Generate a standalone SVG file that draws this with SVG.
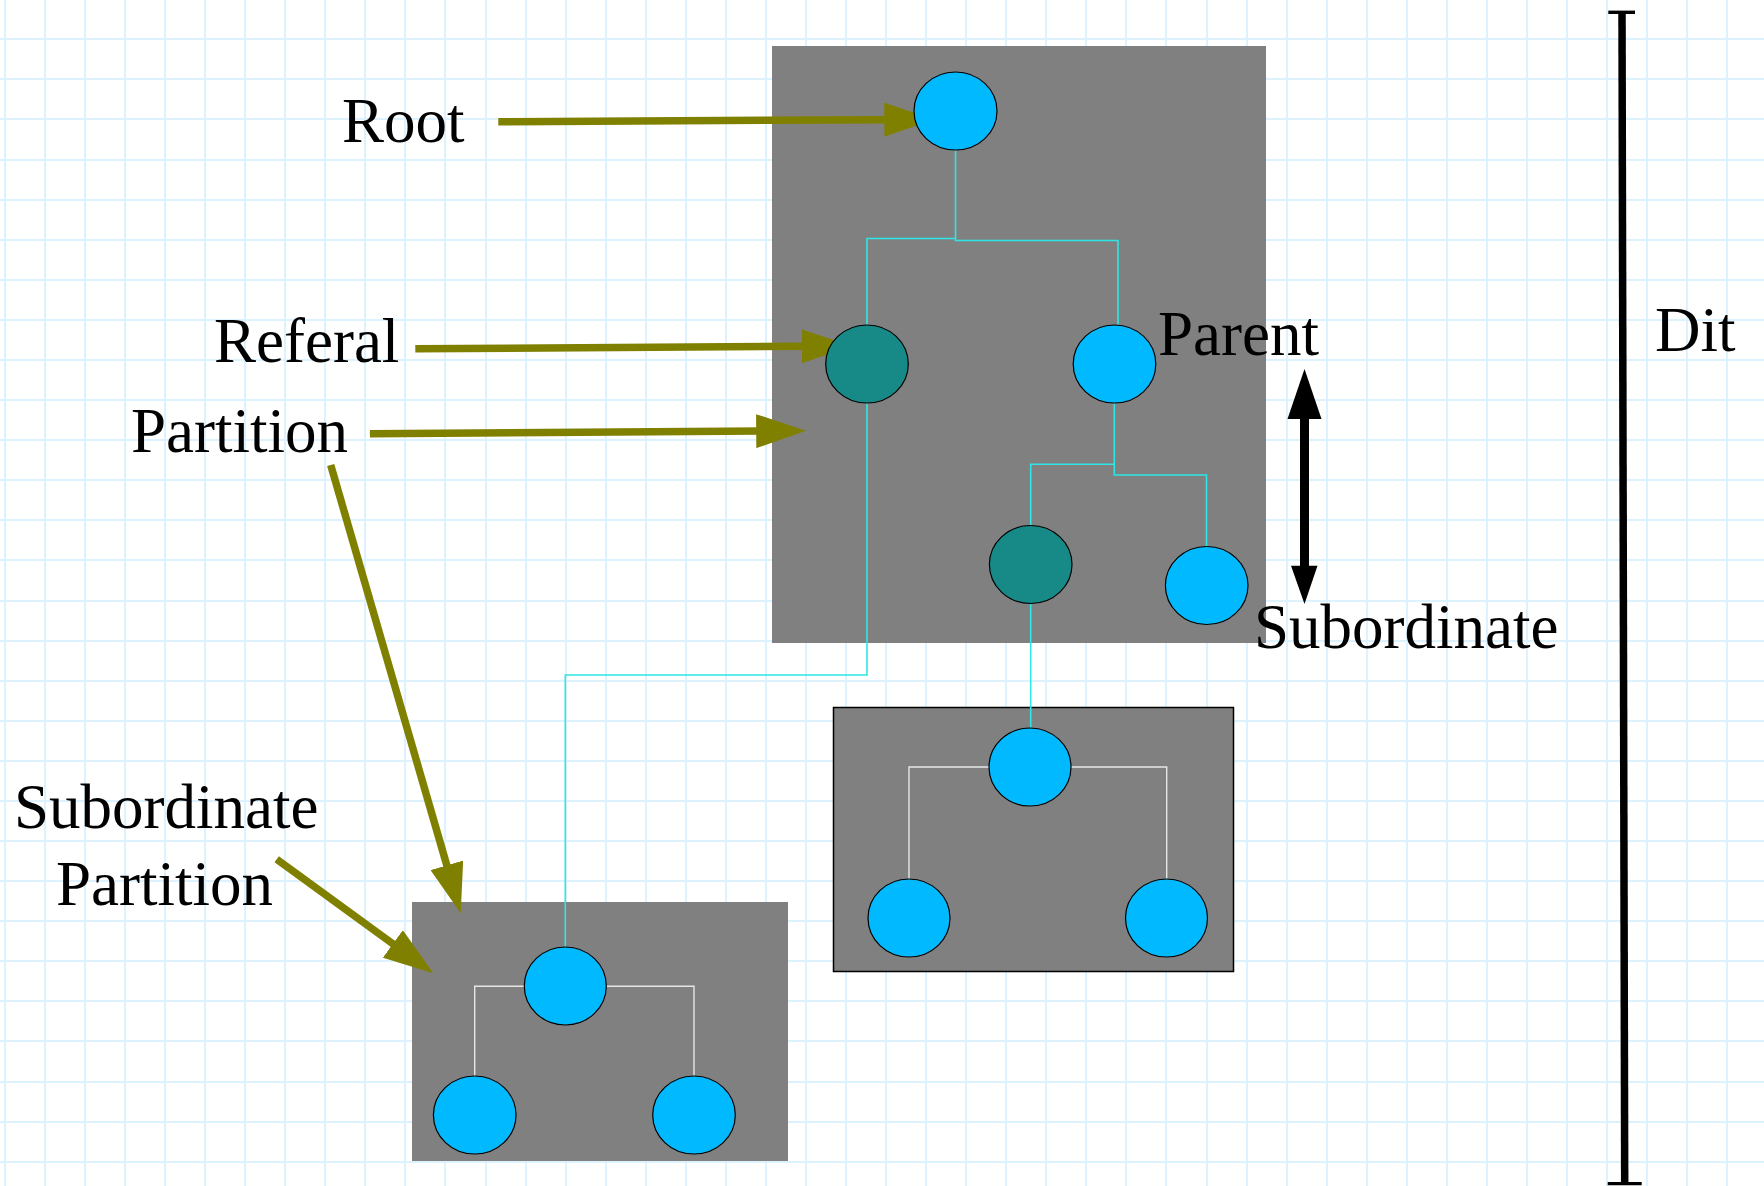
<svg xmlns="http://www.w3.org/2000/svg" width="1764" height="1186" viewBox="0 0 1764 1186">
<style>
.grid{stroke:#dcf3ff;stroke-width:2;fill:none}
.box{fill:#808080}
.n{fill:#00b9ff;stroke:#000;stroke-width:1.2}
.t{fill:#178a88;stroke:#000;stroke-width:1.2}
.cy{stroke:#2ee6e6;stroke-width:1.6;fill:none}
.wl{stroke:#e6e6e6;stroke-width:1.4;fill:none}
.ol{stroke:#808000;stroke-width:7.5;fill:none}
.lbl{font-family:"Liberation Serif","Times New Roman",serif;font-size:63px;fill:#000}
</style>
<defs>
<marker id="oh" viewBox="0 0 50 34" markerWidth="50" markerHeight="34" refX="5" refY="17" orient="auto" markerUnits="userSpaceOnUse">
<path d="M0,0 L50,17 L0,34 Z" fill="#808000"/>
</marker>
</defs>
<rect width="1764" height="1186" fill="#fff"/>
<path class="grid" d="M5 0V1186M45 0V1186M85 0V1186M125 0V1186M165 0V1186M205 0V1186M245 0V1186M285 0V1186M325 0V1186M365 0V1186M405 0V1186M445 0V1186M486 0V1186M526 0V1186M566 0V1186M606 0V1186M646 0V1186M686 0V1186M726 0V1186M766 0V1186M806 0V1186M846 0V1186M886 0V1186M926 0V1186M966 0V1186M1006 0V1186M1046 0V1186M1086 0V1186M1126 0V1186M1166 0V1186M1207 0V1186M1247 0V1186M1287 0V1186M1327 0V1186M1367 0V1186M1407 0V1186M1447 0V1186M1487 0V1186M1527 0V1186M1567 0V1186M1607 0V1186M1647 0V1186M1687 0V1186M1727 0V1186"/>
<path class="grid" d="M0 -1H1764M0 39H1764M0 79H1764M0 119H1764M0 160H1764M0 200H1764M0 240H1764M0 280H1764M0 320H1764M0 360H1764M0 400H1764M0 440H1764M0 480H1764M0 520H1764M0 560H1764M0 601H1764M0 641H1764M0 681H1764M0 721H1764M0 761H1764M0 801H1764M0 841H1764M0 881H1764M0 921H1764M0 961H1764M0 1001H1764M0 1041H1764M0 1082H1764M0 1122H1764M0 1162H1764"/>

<g id="partition-main"><rect class="box" x="772" y="46" width="494" height="597"/></g>
<g id="partition-sub-right"><rect class="box" x="833.5" y="707.5" width="400" height="264" stroke="#000" stroke-width="1.5"/></g>
<g id="partition-sub-left"><rect class="box" x="412" y="902" width="376" height="259"/></g>

<g id="connectors">
<path class="cy" d="M955.5 150V238.5H867V325.7M955.5 238.5V240.5H1118V324.5"/>
<path class="cy" d="M1114.3 403V464.3H1030.7V525.7M1114.3 464.3V475H1206.5V546.7"/>
<path class="cy" d="M867 402V675H565.3V947.3"/>
<path class="cy" d="M1030.7 603.3V728.3"/>
<path class="wl" d="M989 767H909V879.3M1071 767H1166.7V879.3"/>
<path class="wl" d="M524.3 986.3H474.7V1075.7M606.3 986.3H694V1075.7"/>
<line class="ol" x1="498.3" y1="121.7" x2="889.3" y2="119.7" marker-end="url(#oh)"/>
<line class="ol" x1="415.3" y1="348.8" x2="806.7" y2="346.3" marker-end="url(#oh)"/>
<line class="ol" x1="369.9" y1="433.7" x2="761.2" y2="431.1" marker-end="url(#oh)"/>
<line class="ol" x1="330.7" y1="465" x2="448.2" y2="870.1" marker-end="url(#oh)"/>
<line class="ol" x1="276.7" y1="859.3" x2="396.9" y2="946.8" marker-end="url(#oh)"/>
<g id="parent-subordinate-arrow">
<line x1="1304.5" y1="412" x2="1304.5" y2="572" stroke="#000" stroke-width="9"/>
<polygon points="1304.5,369 1321.5,419 1287.5,419" fill="#000"/>
<polygon points="1304.5,604 1317.5,565.7 1291,565.7" fill="#000"/>
</g>
<g id="dit-bar" stroke="#000">
<line x1="1622" y1="12" x2="1624.7" y2="1184" stroke-width="7.5"/>
<line x1="1608.3" y1="12.3" x2="1635" y2="12.3" stroke-width="3.4"/>
<line x1="1607.7" y1="1183.6" x2="1641.7" y2="1183.6" stroke-width="3.4"/>
</g>
</g>

<g id="root"><ellipse class="n" cx="955.5" cy="111" rx="41.5" ry="39"/></g>
<g id="referral"><ellipse class="t" cx="867" cy="364" rx="41.3" ry="39"/></g>
<g id="parent"><ellipse class="n" cx="1114.5" cy="364" rx="41.3" ry="39"/></g>
<g id="referral-2"><ellipse class="t" cx="1030.7" cy="564.5" rx="41.3" ry="39"/></g>
<g id="subordinate"><ellipse class="n" cx="1206.7" cy="585.5" rx="41.3" ry="39"/></g>
<g id="sub-right-top"><ellipse class="n" cx="1030" cy="767" rx="41" ry="39"/></g>
<g id="sub-right-left"><ellipse class="n" cx="909" cy="918" rx="41" ry="39"/></g>
<g id="sub-right-right"><ellipse class="n" cx="1166.5" cy="918" rx="41" ry="39"/></g>
<g id="sub-left-top"><ellipse class="n" cx="565.3" cy="986" rx="41" ry="39"/></g>
<g id="sub-left-left"><ellipse class="n" cx="474.7" cy="1115" rx="41.3" ry="39"/></g>
<g id="sub-left-right"><ellipse class="n" cx="694" cy="1115" rx="41.3" ry="39"/></g>

<g id="labels">
<text class="lbl" x="342" y="141.7">Root</text>
<text class="lbl" x="214" y="361.7">Referal</text>
<text class="lbl" x="131" y="451.7">Partition</text>
<text class="lbl" x="1158" y="355">Parent</text>
<text class="lbl" x="1254" y="648">Subordinate</text>
<text class="lbl" x="1655" y="351">Dit</text>
<text class="lbl" x="14" y="828.3">Subordinate</text>
<text class="lbl" x="56" y="905">Partition</text>
</g>
</svg>
